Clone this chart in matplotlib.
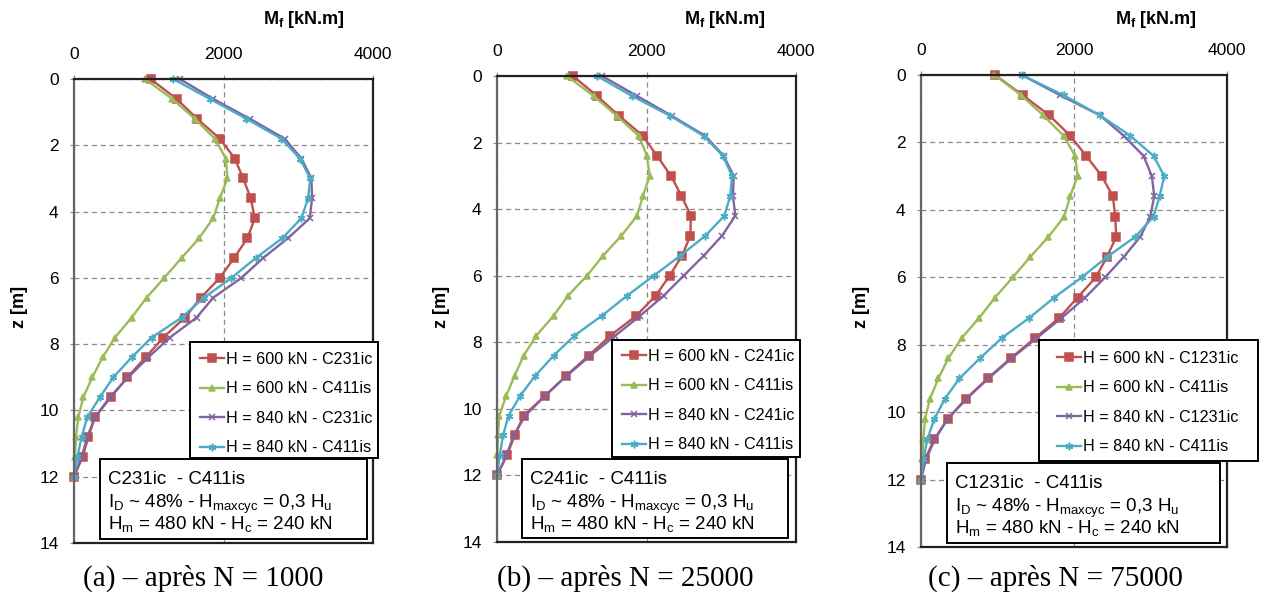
import matplotlib

matplotlib.use("Agg")
import matplotlib.pyplot as plt
from matplotlib.patches import Rectangle

plt.rcParams["font.family"] = ["Liberation Sans", "DejaVu Sans"]
plt.rcParams["mathtext.fontset"] = "custom"
plt.rcParams["mathtext.rm"] = "Liberation Sans"
plt.rcParams["mathtext.bf"] = "Liberation Sans:bold"
plt.rcParams["mathtext.it"] = "Liberation Sans:italic"

# profondeur des points de mesure [m]
Z = [0.0, 0.6, 1.2, 1.8, 2.4, 3.0, 3.6, 4.2, 4.8, 5.4, 6.0,
     6.6, 7.2, 7.8, 8.4, 9.0, 9.6, 10.2, 10.8, 11.4, 12.0]

# (a) après N = 1000
A_600_IC = [1024, 1372, 1648, 1951, 2151, 2263, 2365, 2419, 2321, 2142, 1951,
            1697, 1483, 1194, 958, 713, 494, 281, 192, 116, 0]
A_600_IS = [949, 1314, 1617, 1884, 2031, 2053, 1951, 1862, 1675, 1439, 1207,
            971, 770, 548, 383, 245, 125, 58, 27, 13, 0]
A_840_IC = [1416, 1862, 2352, 2819, 3042, 3176, 3185, 3154, 2864, 2530, 2240,
            1862, 1639, 1283, 993, 726, 481, 281, 178, 102, 0]
A_840_IS = [1327, 1817, 2307, 2775, 3020, 3162, 3131, 3042, 2788, 2432, 2107,
            1737, 1439, 1038, 771, 526, 347, 178, 102, 45, 0]

# (b) après N = 25000
B_600_IC = [1017, 1338, 1636, 1953, 2140, 2328, 2466, 2595, 2586, 2475, 2310,
            2122, 1864, 1516, 1226, 927, 647, 357, 236, 134, 0]
B_600_IS = [936, 1293, 1605, 1895, 2007, 2042, 1953, 1873, 1663, 1418, 1204,
            950, 758, 526, 357, 236, 125, 31, 13, 4, 0]
B_840_IC = [1405, 1873, 2341, 2787, 3032, 3166, 3157, 3188, 3010, 2765, 2497,
            2230, 1917, 1583, 1249, 936, 647, 379, 223, 125, 0]
B_840_IS = [1338, 1806, 2319, 2765, 3023, 3144, 3121, 3041, 2787, 2452, 2096,
            1740, 1405, 1035, 758, 513, 312, 156, 80, 36, 0]

# (c) après N = 75000
C_600_IC = [968, 1330, 1679, 1950, 2159, 2364, 2508, 2539, 2552, 2430, 2286,
            2046, 1810, 1492, 1173, 872, 589, 349, 174, 52, 0]
C_600_IS = [960, 1309, 1601, 1863, 2015, 2046, 1950, 1871, 1666, 1426, 1200,
            968, 763, 532, 358, 227, 118, 52, 31, 17, 0]
C_840_IC = [1317, 1819, 2342, 2648, 2909, 3018, 3049, 2997, 2866, 2648, 2408,
            2146, 1841, 1514, 1186, 881, 598, 349, 183, 65, 0]
C_840_IS = [1317, 1863, 2342, 2735, 3040, 3180, 3119, 3040, 2800, 2430, 2102,
            1742, 1418, 1056, 772, 502, 314, 174, 83, 31, 0]

ESSAIS_IC = ["C231ic", "C241ic", "C1231ic"]
CAPTIONS = ["(a) – après N = 1000", "(b) – après N = 25000", "(c) – après N = 75000"]
X_TICKS = [0, 2000, 4000]
Z_TICKS = [0, 2, 4, 6, 8, 10, 12, 14]

SERIES_STYLE = [
    {"color": "#C0504D", "marker": "s", "ms": 5.5},
    {"color": "#9BBB59", "marker": "^", "ms": 5.0},
    {"color": "#8064A2", "marker": "x", "ms": 4.5},
    {"color": "#4BACC6", "marker": (6, 2, 0), "ms": 5.5},
]

W, H = 1266, 597

# position des panneaux en pixels : gauche, haut, largeur, hauteur
PANELS = [
    {"ax": (74, 79, 299, 464), "legend_box": (190, 342, 188, 116),
     "legend_at": (195, 347), "box": (100, 459, 267, 80),
     "text_y": (477, 500, 521),
     "label_x": 304, "zlabel_x": 20, "caption_x": 203},
    {"ax": (497, 76, 299, 466), "legend_box": (612, 340, 188, 117),
     "legend_at": (617, 344), "box": (522, 459, 266, 79),
     "text_y": (477, 500, 522),
     "label_x": 725, "zlabel_x": 441, "caption_x": 625},
    {"ax": (921, 75, 306, 472), "legend_box": (1039, 340, 219, 121),
     "legend_at": (1052, 346), "box": (947, 463, 273, 80),
     "text_y": (481, 504, 525),
     "label_x": 1156, "zlabel_x": 862, "caption_x": 1055},
]


def fig_rect(left, top, width, height):
    """Convertit un rectangle en pixels en coordonnées de figure."""
    return [left / W, 1 - (top + height) / H, width / W, height / H]


def add_box(fig, left, top, width, height):
    fig.patches.append(Rectangle(
        (left / W, 1 - (top + height) / H), width / W, height / H,
        transform=fig.transFigure, facecolor="white", edgecolor="black",
        linewidth=1.4, zorder=5))


def draw_panel(fig, panel, series, essai_ic, caption):
    ax = fig.add_axes(fig_rect(*panel["ax"]))
    labels = [
        f"H = 600 kN - {essai_ic}",
        "H = 600 kN - C411is",
        f"H = 840 kN - {essai_ic}",
        "H = 840 kN - C411is",
    ]
    for values, style, label in zip(series, SERIES_STYLE, labels):
        ax.plot(values, Z, color=style["color"], marker=style["marker"],
                markersize=style["ms"], markeredgewidth=1.1, linewidth=1.7,
                label=label, clip_on=False)

    ax.set_xlim(0, 4000)
    ax.set_ylim(14, 0)
    ax.set_xticks(X_TICKS)
    ax.set_yticks(Z_TICKS)
    ax.xaxis.tick_top()
    ax.tick_params(axis="both", labelsize=12.5, length=3, color="#888888")
    ax.tick_params(axis="x", pad=9)
    ax.tick_params(axis="y", pad=8)
    ax.grid(True, linestyle=(0, (4, 3)), color="#8a8a8a", linewidth=0.9)
    for name, spine in ax.spines.items():
        spine.set_linewidth(1.6)
        spine.set_color("#222222" if name != "left" else "#666666")

    add_box(fig, *panel["legend_box"])
    lx, ly = panel["legend_at"]
    legend = fig.legend(
        loc="upper left",
        bbox_to_anchor=(lx / W, 1 - ly / H),
        bbox_transform=fig.transFigure,
        handles=ax.get_lines(),
        fontsize=11.6,
        frameon=False,
        handlelength=1.5,
        handletextpad=0.1,
        labelspacing=0.9,
        borderpad=0.3,
        borderaxespad=0,
    )
    legend.set_zorder(6)

    bx, by, bw, bh = panel["box"]
    add_box(fig, bx, by, bw, bh)
    lines = [
        f"{essai_ic}  - C411is",
        r"I$_{\rm D}$ ~ 48% - H$_{\rm maxcyc}$ = 0,3 H$_{\rm u}$",
        r"H$_{\rm m}$ = 480 kN - H$_{\rm c}$ = 240 kN",
    ]
    for line, y in zip(lines, panel["text_y"]):
        fig.text((bx + 8) / W, 1 - y / H, line, fontsize=13.5,
                 va="center_baseline", ha="left", zorder=7)

    fig.text(panel["label_x"] / W, 1 - 20 / H, r"M$_{\bf f}$ [kN.m]",
             fontsize=13, fontweight="bold", ha="center", va="center")
    fig.text(panel["zlabel_x"] / W, 1 - 307 / H, "z [m]", fontsize=13,
             fontweight="bold", rotation=90, ha="center", va="center")
    fig.text(panel["caption_x"] / W, 1 - 578 / H, caption,
             family=["Liberation Serif", "DejaVu Serif"], fontsize=21,
             ha="center", va="center")


def main():
    fig = plt.figure(figsize=(W / 100, H / 100), dpi=100)
    all_series = [
        [A_600_IC, A_600_IS, A_840_IC, A_840_IS],
        [B_600_IC, B_600_IS, B_840_IC, B_840_IS],
        [C_600_IC, C_600_IS, C_840_IC, C_840_IS],
    ]
    for panel, series, essai_ic, caption in zip(PANELS, all_series, ESSAIS_IC, CAPTIONS):
        draw_panel(fig, panel, series, essai_ic, caption)
    fig.savefig("out.png", dpi=100)
    plt.close(fig)


if __name__ == "__main__":
    main()
